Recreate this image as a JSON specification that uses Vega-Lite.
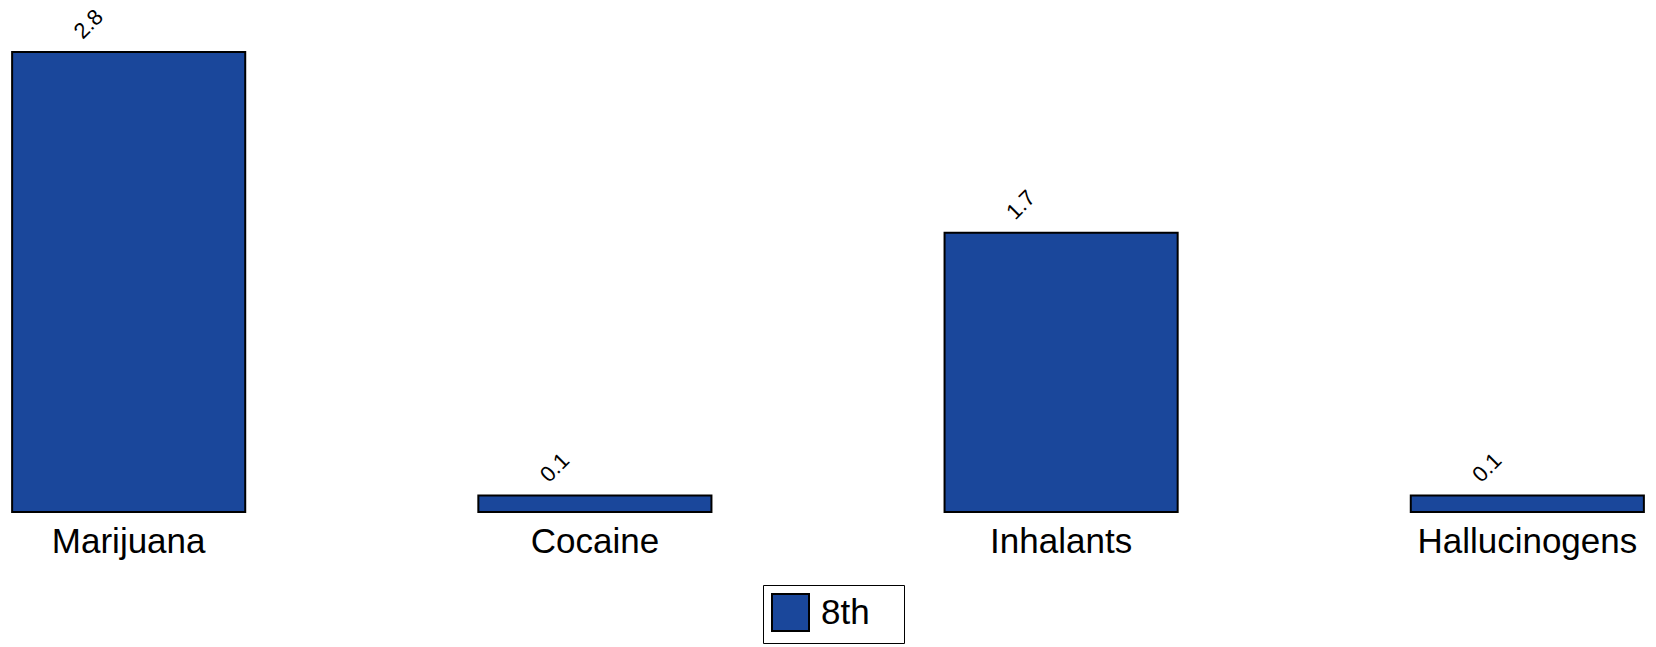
{
  "$schema": "https://vega.github.io/schema/vega-lite/v6.json",
  "autosize": "none",
  "width": 1656,
  "height": 460,
  "padding": {"left": 0, "top": 52, "right": 0, "bottom": 135},
  "background": "white",
  "config": {"view": {"stroke": null}, "font": "Liberation Sans"},
  "data": {"values": [
    {"drug": "Marijuana", "value": 2.8, "grade": "8th"},
    {"drug": "Cocaine", "value": 0.1, "grade": "8th"},
    {"drug": "Inhalants", "value": 1.7, "grade": "8th"},
    {"drug": "Hallucinogens", "value": 0.1, "grade": "8th"}
  ]},
  "encoding": {
    "x": {"field": "drug", "type": "nominal", "sort": null,
      "scale": {"paddingInner": 0.5, "paddingOuter": 0.026},
      "axis": {"title": null, "domain": false, "ticks": false, "labelAngle": 0, "labelFontSize": 35, "labelColor": "black", "labelPadding": 12, "labelLimit": 0, "labelFont": "Liberation Sans"}},
    "y": {"field": "value", "type": "quantitative", "scale": {"domain": [0, 2.8], "nice": false}, "axis": null}
  },
  "layer": [
    {"mark": {"type": "bar", "stroke": "black", "strokeWidth": 2},
     "encoding": {"color": {"field": "grade", "type": "nominal", "scale": {"range": ["#1a479b"]},
       "legend": {"title": null, "orient": "none", "legendX": 763, "legendY": 533, "symbolType": "square", "symbolSize": 1369, "symbolStrokeColor": "black", "symbolStrokeWidth": 2, "labelFontSize": 35, "labelColor": "black", "labelFont": "Liberation Sans", "labelOffset": 11, "labelExpr": "datum.label + '\u2800'", "strokeColor": "black", "fillColor": "white", "padding": 8, "cornerRadius": 0}}}},
    {"mark": {"type": "text", "angle": -45, "align": "left", "baseline": "alphabetic", "dx": -24, "dy": -41, "fontSize": 22, "color": "black", "font": "Liberation Sans"},
     "encoding": {"text": {"field": "value", "type": "quantitative", "format": ".1f"}}}
  ]
}
